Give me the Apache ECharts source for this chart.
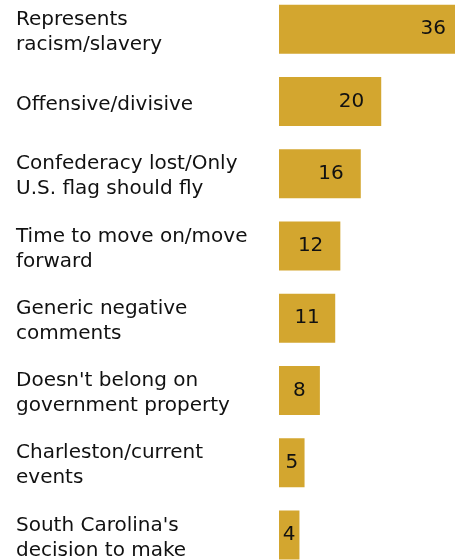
<!DOCTYPE html>
<html>
<head>
<meta charset="utf-8">
<script src="https://cdn.jsdelivr.net/npm/echarts@6/dist/echarts.min.js"></script>
<style>
html,body{margin:0;padding:0;background:#fff;overflow:hidden;width:455px;height:560px;}
#chart{position:absolute;left:0;top:-7px;width:480px;height:600px;}
</style>
</head>
<body>
<div id="chart"></div>
<script>
var categories = [
  "Represents\nracism/slavery",
  "Offensive/divisive",
  "Confederacy lost/Only\nU.S. flag should fly",
  "Time to move on/move\nforward",
  "Generic negative\ncomments",
  "Doesn't belong on\ngovernment property",
  "Charleston/current\nevents",
  "South Carolina's\ndecision to make"
];
var values = [36, 20, 16, 12, 11, 8, 5, 4];

var chart = echarts.init(document.getElementById('chart'), null, {renderer: 'canvas'});
var FONT = 'DejaVu Sans';
chart.setOption({
  animation: false,
  backgroundColor: '#ffffff',
  grid: [
    {left: 279, top: 0, width: 184, height: 578, containLabel: false},
    {left: 279, top: 3, width: 184, height: 578, containLabel: false}
  ],
  xAxis: [
    {type: 'value', min: 0, max: 36, show: false, gridIndex: 0},
    {type: 'value', min: 0, max: 36, show: false, gridIndex: 1}
  ],
  yAxis: [
    {
      type: 'category', inverse: true, data: categories, gridIndex: 0,
      axisLine: {show: false}, axisTick: {show: false}, axisLabel: {show: false}
    },
    {
      type: 'category', inverse: true, data: categories, gridIndex: 1,
      axisLine: {show: false}, axisTick: {show: false},
      axisLabel: {
        align: 'left',
        margin: 263,
        fontFamily: FONT,
        fontSize: 20,
        lineHeight: 25,
        color: '#111111'
      }
    }
  ],
  series: [{
    type: 'bar',
    xAxisIndex: 0, yAxisIndex: 0,
    data: values.map(function (v) {
      return {
        value: v,
        label: v >= 12 ? {position: 'insideRight', distance: 17} : {position: 'inside'}
      };
    }),
    barWidth: 49,
    itemStyle: {color: '#D3A62F'},
    label: {
      show: true,
      fontFamily: FONT,
      fontSize: 20,
      color: '#111111'
    }
  }]
});
</script>
</body>
</html>
